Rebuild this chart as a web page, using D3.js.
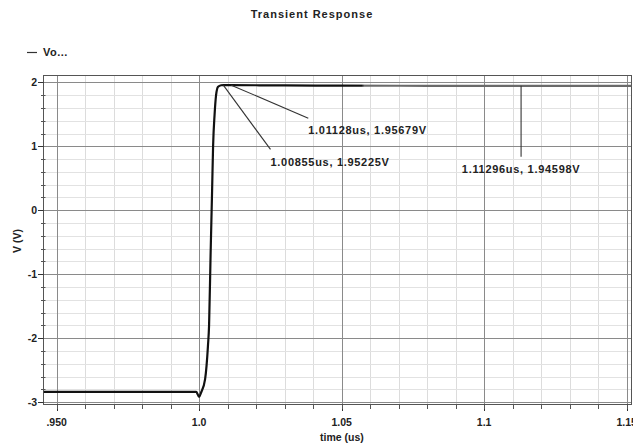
<!DOCTYPE html>
<html>
<head>
<meta charset="utf-8">
<script src="https://cdn.jsdelivr.net/npm/d3@7"></script>
<style>
  html, body { margin: 0; padding: 0; background: #fff; }
  svg { display: block; }
  text { font-family: "Liberation Sans", Arial, sans-serif; font-weight: bold; fill: #222; }
</style>
</head>
<body>
<svg id="chart" width="633" height="445"></svg>
<script>
// ---- data ----
const timeUs = [0.9454, 0.97, 0.999, 1.0, 1.0007, 1.0021, 1.0031, 1.00349, 1.00402, 1.00455, 1.0049,
                1.00543, 1.00595, 1.00665, 1.0077, 1.0086, 1.0113, 1.02, 1.03, 1.05, 1.08, 1.113, 1.1517];
const voltage = [-2.84, -2.84, -2.84, -2.92, -2.85, -2.64, -2.12, -1.8, -0.7, 0.3, 1.0,
                 1.5, 1.8, 1.93, 1.955, 1.958, 1.957, 1.955, 1.952, 1.949, 1.947, 1.946, 1.946];

const xTicks = [0.95, 1.0, 1.05, 1.1, 1.15];
const xTickLabels = [".950", "1.0", "1.05", "1.1", "1.15"];
const yTicks = [2, 1, 0, -1, -2, -3];
const yTickLabels = ["2", "1", "0", "-1", "-2", "-3"];

const markerTime = [1.00855, 1.01128, 1.11296];
const markerVolt = [1.95225, 1.95679, 1.94598];
const markerLabels = ["1.00855us, 1.95225V", "1.01128us, 1.95679V", "1.11296us, 1.94598V"];

const titleText = "Transient Response";
const seriesName = "Vo...";
const xTitle = "time (us)";
const yTitle = "V (V)";

// ---- layout (not data) ----
const plot = { left: 43.5, right: 631.5, top: 75.5, bottom: 404.5 };
const labelLayout = [
  { ex: 47, ey: 64, tx: 47, ty: 81, anchor: "start" },
  { ex: 77, ey: 33, tx: 77, ty: 49, anchor: "start" },
  { ex: 0, ey: 71, tx: 0, ty: 87, anchor: "middle" }
];

const svg = d3.select("#chart");
svg.append("rect").attr("width", 633).attr("height", 445).attr("fill", "#fff");

const x = d3.scaleLinear().domain([0.9454, 1.1517]).range([plot.left, plot.right]);
const y = d3.scaleLinear().domain([2.1, -3.03]).range([76, 404]);

// minor grid
const xMinor = d3.range(95, 116).map(d => d / 100);
const yMinor = d3.range(-15, 11).map(d => d / 5);
const g = svg.append("g");
g.selectAll(".xm").data(xMinor).join("line")
  .attr("x1", d => Math.round(x(d)) + 0.5).attr("x2", d => Math.round(x(d)) + 0.5)
  .attr("y1", plot.top).attr("y2", plot.bottom)
  .attr("stroke", "#dcdcdc").attr("stroke-width", 1);
g.selectAll(".ym").data(yMinor).join("line")
  .attr("y1", d => Math.round(y(d)) + 0.5).attr("y2", d => Math.round(y(d)) + 0.5)
  .attr("x1", plot.left).attr("x2", plot.right)
  .attr("stroke", "#e2e2e2").attr("stroke-width", 1);
// major grid
g.selectAll(".xM").data(xTicks).join("line")
  .attr("x1", d => Math.round(x(d)) + 0.5).attr("x2", d => Math.round(x(d)) + 0.5)
  .attr("y1", plot.top).attr("y2", plot.bottom)
  .attr("stroke", "#8a8a8a").attr("stroke-width", 1);
g.selectAll(".yM").data(yTicks).join("line")
  .attr("y1", d => Math.round(y(d)) + 0.5).attr("y2", d => Math.round(y(d)) + 0.5)
  .attr("x1", plot.left).attr("x2", plot.right)
  .attr("stroke", "#8a8a8a").attr("stroke-width", 1);

// frame
svg.append("rect")
  .attr("x", plot.left).attr("y", plot.top)
  .attr("width", plot.right - plot.left).attr("height", plot.bottom - plot.top)
  .attr("fill", "none").attr("stroke", "#555").attr("stroke-width", 1);

// ticks
svg.selectAll(".ytM").data(yTicks).join("line")
  .attr("x1", 38).attr("x2", plot.left)
  .attr("y1", d => Math.round(y(d)) + 0.5).attr("y2", d => Math.round(y(d)) + 0.5)
  .attr("stroke", "#333");
svg.selectAll(".ytm").data(yMinor.filter(d => !Number.isInteger(d))).join("line")
  .attr("x1", 41).attr("x2", 45.5)
  .attr("y1", d => Math.round(y(d)) + 0.5).attr("y2", d => Math.round(y(d)) + 0.5)
  .attr("stroke", "#555");
svg.selectAll(".xtM").data(xTicks).join("line")
  .attr("x1", d => Math.round(x(d)) + 0.5).attr("x2", d => Math.round(x(d)) + 0.5)
  .attr("y1", plot.bottom).attr("y2", 411)
  .attr("stroke", "#333");
svg.selectAll(".xtm").data(xMinor).join("line")
  .attr("x1", d => Math.round(x(d)) + 0.5).attr("x2", d => Math.round(x(d)) + 0.5)
  .attr("y1", plot.bottom).attr("y2", 409)
  .attr("stroke", "#555");

// tick labels
svg.selectAll(".ytl").data(yTicks).join("text")
  .attr("x", 37).attr("y", d => y(d) + 4)
  .attr("text-anchor", "end").attr("font-size", 10.5)
  .text((d, i) => yTickLabels[i]);
svg.selectAll(".xtl").data(xTicks).join("text")
  .attr("x", d => x(d)).attr("y", 426)
  .attr("text-anchor", "middle").attr("font-size", 10.5)
  .text((d, i) => xTickLabels[i]);

// axis titles
svg.append("text").attr("x", 342).attr("y", 441).attr("text-anchor", "middle")
  .attr("font-size", 10.5).text(xTitle);
svg.append("text").attr("transform", "translate(21,241) rotate(-90)")
  .attr("text-anchor", "middle").attr("font-size", 10.5).text(yTitle);

// title
svg.append("text").attr("x", 312).attr("y", 18).attr("text-anchor", "middle")
  .attr("font-size", 11).attr("letter-spacing", 1).text(titleText);

// legend
svg.append("line").attr("x1", 27).attr("x2", 37).attr("y1", 52.5).attr("y2", 52.5)
  .attr("stroke", "#333").attr("stroke-width", 1.2);
svg.append("text").attr("x", 43).attr("y", 56).attr("font-size", 11).attr("letter-spacing", 0.5).text(seriesName);

// trace
svg.append("clipPath").attr("id", "clip").append("rect")
  .attr("x", plot.left).attr("y", plot.top)
  .attr("width", plot.right - plot.left).attr("height", plot.bottom - plot.top);
const grad = svg.append("defs").append("linearGradient").attr("id", "tr")
  .attr("gradientUnits", "userSpaceOnUse")
  .attr("x1", plot.left).attr("x2", plot.right).attr("y1", 0).attr("y2", 0);
const split = (x(1.057) - plot.left) / (plot.right - plot.left);
grad.append("stop").attr("offset", 0).attr("stop-color", "#111");
grad.append("stop").attr("offset", split).attr("stop-color", "#111");
grad.append("stop").attr("offset", split + 0.005).attr("stop-color", "#6a6a6a");
grad.append("stop").attr("offset", 1).attr("stop-color", "#6a6a6a");

const pts = timeUs.map((t, i) => [t, voltage[i]]);
svg.append("path")
  .datum(pts)
  .attr("clip-path", "url(#clip)")
  .attr("fill", "none")
  .attr("stroke", "url(#tr)")
  .attr("stroke-width", 2.2)
  .attr("stroke-linejoin", "round")
  .attr("d", d3.line().x(d => x(d[0])).y(d => y(d[1])).curve(d3.curveMonotoneX));

// markers
markerTime.forEach((t, i) => {
  const px = x(t), py = y(markerVolt[i]);
  const L = labelLayout[i];
  svg.append("line").attr("x1", px).attr("y1", py).attr("x2", px + L.ex).attr("y2", py + L.ey)
    .attr("stroke", "#333").attr("stroke-width", 1.1);
  svg.append("text").attr("x", px + L.tx).attr("y", py + L.ty)
    .attr("text-anchor", L.anchor).attr("font-size", 11).attr("letter-spacing", 0.7)
    .text(markerLabels[i]);
});
</script>
</body>
</html>
